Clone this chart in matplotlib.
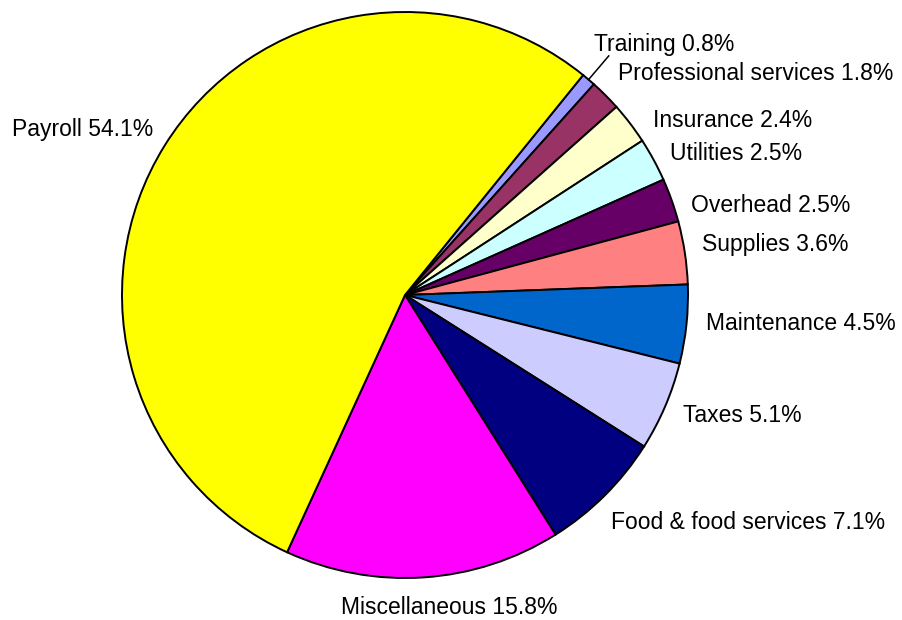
import numpy as np
import matplotlib.pyplot as plt

plt.rcParams['font.family'] = ['Liberation Sans', 'DejaVu Sans']

# slices in clockwise order, starting at the top right
labels = ['Training', 'Professional services', 'Insurance', 'Utilities',
          'Overhead', 'Supplies', 'Maintenance', 'Taxes',
          'Food & food services', 'Miscellaneous', 'Payroll']
shares = [0.8, 1.8, 2.4, 2.5, 2.5, 3.6, 4.5, 5.1, 7.1, 15.8, 54.1]
colors = ['#9999FF', '#993366', '#FFFFCC', '#CCFFFF', '#660066', '#FF8080',
          '#0066CC', '#CCCCFF', '#000080', '#FF00FF', '#FFFF00']

# small hand nudges (px, right / down) so labels sit where the original puts them
nudge = [(-15, 1), (0, -10), (10, 7), (1, 2), (3, 11), (0, -6),
         (3, -3), (2, 2), (-6, 3), (25, 2), (3, -7)]

W, H = 902, 620
cx, cy, R = 405, H - 295, 283

fig = plt.figure(figsize=(W / 100, H / 100), dpi=100)
ax = fig.add_axes([0, 0, 1, 1])

wedges, _ = ax.pie(shares, colors=colors, startangle=51, counterclock=False,
                   center=(cx, cy), radius=R,
                   wedgeprops=dict(edgecolor='black', linewidth=1.4))

for w, lab, val, (dx, dy) in zip(wedges, labels, shares, nudge):
    t = np.deg2rad((w.theta1 + w.theta2) / 2)
    c, s = np.cos(t), np.sin(t)
    txt = '%s %.1f%%' % (lab, val)
    if val < 1:
        # small slice: leader line out to the label
        x0, y0 = cx + R * c, cy + R * s
        x1, y1 = cx + 1.11 * R * c, cy + 1.11 * R * s
        ax.plot([x0, x1], [y0, y1], color='black', lw=1.1)
        ax.text(x1 + dx, y1 + 1 - dy, txt, ha='left', va='bottom',
                fontsize=16.5)
        continue
    r = 1.06 * R
    x, y = cx + r * c, cy + r * s
    ha = 'left' if c > 0.15 else ('right' if c < -0.15 else 'center')
    va = 'top' if s < -0.6 else ('bottom' if s > 0.9 else 'center')
    ax.text(x + dx, y - dy, txt, ha=ha, va=va, fontsize=16.5)

ax.set_xlim(0, W)
ax.set_ylim(0, H)
ax.set_aspect('equal')
ax.axis('off')

fig.savefig('out.png', dpi=100, facecolor='white')
